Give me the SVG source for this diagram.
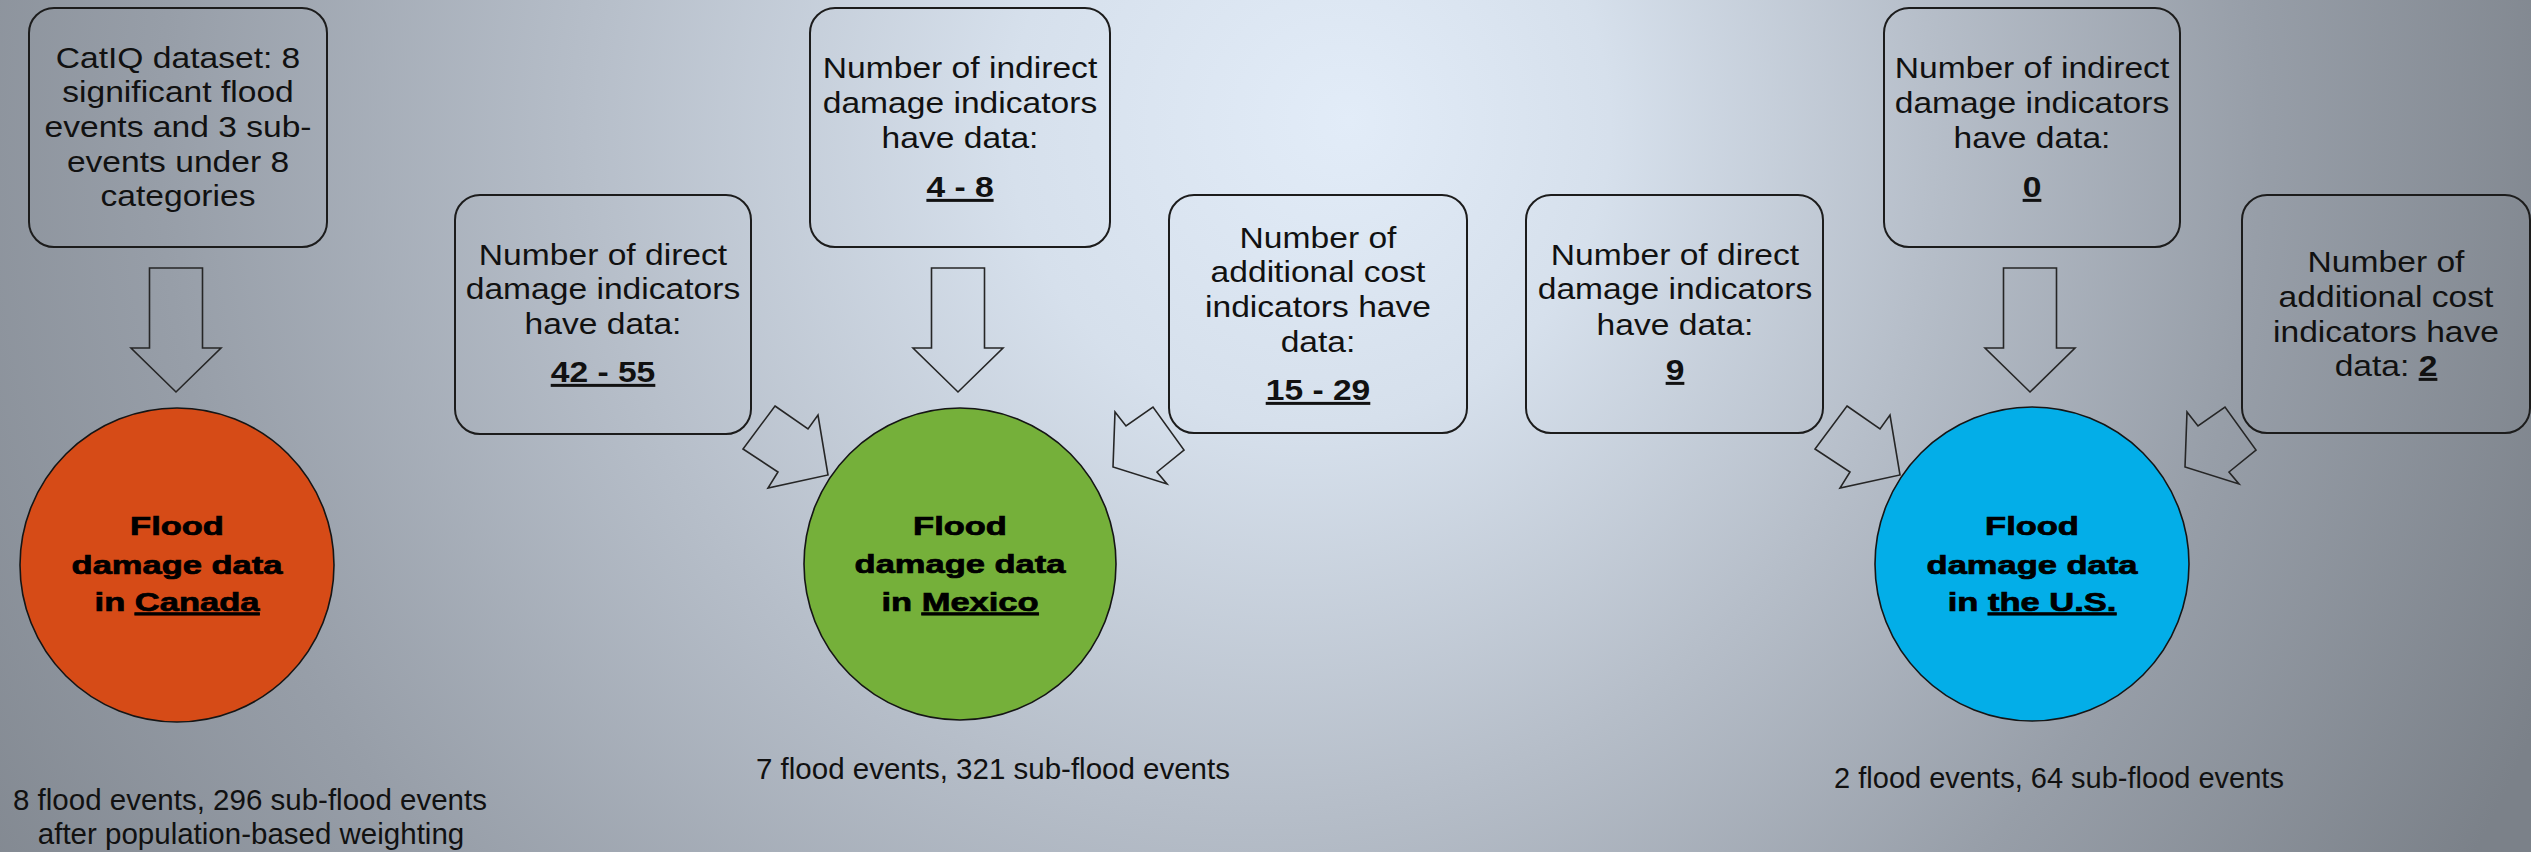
<svg xmlns="http://www.w3.org/2000/svg" xmlns:xlink="http://www.w3.org/1999/xlink" width="2531" height="852" viewBox="0 0 2531 852">
<style>
.box{fill:none;stroke:#1c1c1c;stroke-width:2}
.arrow{fill:none;stroke:#262626;stroke-width:1.6;stroke-linejoin:miter}
.circ{stroke:#151515;stroke-width:1.6}
.t{font-family:"Liberation Sans",Arial,sans-serif;font-size:30px;fill:#111;text-anchor:middle}
.b{font-weight:bold}
.u{text-decoration:underline}
.ct{font-family:"Liberation Sans",Arial,sans-serif;font-size:25px;font-weight:bold;fill:#000;stroke:#000;stroke-width:0.7;text-anchor:middle}
.note{font-family:"Liberation Sans",Arial,sans-serif;font-size:29.5px;fill:#111;text-anchor:middle}
</style>
<defs>
<radialGradient id="bg" gradientUnits="userSpaceOnUse" cx="1150" cy="150" r="1500" fx="1350" fy="120">
<stop offset="0" stop-color="#e2ecf8"/>
<stop offset="0.2" stop-color="#d6e0ec"/>
<stop offset="0.45" stop-color="#b6bec9"/>
<stop offset="0.7" stop-color="#979ea8"/>
<stop offset="1" stop-color="#7b8189"/>
</radialGradient>
<path id="arrDown" d="M-26.5,0 H26.5 V80 H45 L0,124 L-45,80 H-26.5 Z"/>
<path id="arrLeft" d="M775,406 L808,429 L818,415 L828,475 L768,488 L778,472 L743,449 Z"/>
<path id="arrRight" d="M1113,467 L1115,412 L1126,426 L1153,407 L1184,450 L1157,472 L1167,484 Z"/>
</defs>
<rect x="0" y="0" width="2531" height="852" fill="url(#bg)"/>

<g id="connectors">
<use xlink:href="#arrDown" class="arrow" transform="translate(176 268)"/>
<use xlink:href="#arrDown" class="arrow" transform="translate(958 268)"/>
<use xlink:href="#arrDown" class="arrow" transform="translate(2030 268)"/>
<use xlink:href="#arrLeft" class="arrow"/>
<use xlink:href="#arrRight" class="arrow"/>
<use xlink:href="#arrLeft" class="arrow" transform="translate(1072 0)"/>
<use xlink:href="#arrRight" class="arrow" transform="translate(1072 0)"/>
</g>

<g id="catiq">
<rect class="box" x="29" y="8" width="298" height="239" rx="25"/>
<g transform="translate(178 0) scale(1.12 1)">
<text class="t" x="0" y="68">CatIQ dataset: 8</text>
<text class="t" x="0" y="102">significant flood</text>
<text class="t" x="0" y="137">events and 3 sub-</text>
<text class="t" x="0" y="172">events under 8</text>
<text class="t" x="0" y="206">categories</text>
</g>
</g>

<g id="canada">
<circle class="circ" cx="177" cy="565" r="157" fill="#d64b17"/>
<g transform="translate(177 0) scale(1.38 1)">
<text class="ct" x="0" y="535">Flood</text>
<text class="ct" x="0" y="574">damage data</text>
<text class="ct" x="0" y="611">in <tspan class="u">Canada</tspan></text>
</g>
</g>

<g id="canada-note">
<text class="note" x="250" y="810">8 flood events, 296 sub-flood events</text>
<text class="note" x="251" y="844">after population-based weighting</text>
</g>

<g id="mx-direct">
<rect class="box" x="455" y="195" width="296" height="239" rx="25"/>
<g transform="translate(603 0) scale(1.12 1)">
<text class="t" x="0" y="265">Number of direct</text>
<text class="t" x="0" y="299">damage indicators</text>
<text class="t" x="0" y="334">have data:</text>
<text class="t b u" x="0" y="382">42 - 55</text>
</g>
</g>

<g id="mx-indirect">
<rect class="box" x="810" y="8" width="300" height="239" rx="25"/>
<g transform="translate(960 0) scale(1.12 1)">
<text class="t" x="0" y="78">Number of indirect</text>
<text class="t" x="0" y="113">damage indicators</text>
<text class="t" x="0" y="148">have data:</text>
<text class="t b u" x="0" y="197">4 - 8</text>
</g>
</g>

<g id="mx-additional">
<rect class="box" x="1169" y="195" width="298" height="238" rx="25"/>
<g transform="translate(1318 0) scale(1.12 1)">
<text class="t" x="0" y="248">Number of</text>
<text class="t" x="0" y="282">additional cost</text>
<text class="t" x="0" y="317">indicators have</text>
<text class="t" x="0" y="352">data:</text>
<text class="t b u" x="0" y="400">15 - 29</text>
</g>
</g>

<g id="mexico">
<circle class="circ" cx="960" cy="564" r="156" fill="#75b03a"/>
<g transform="translate(960 0) scale(1.38 1)">
<text class="ct" x="0" y="535">Flood</text>
<text class="ct" x="0" y="573">damage data</text>
<text class="ct" x="0" y="611">in <tspan class="u">Mexico</tspan></text>
</g>
</g>

<g id="mexico-note">
<text class="note" x="993" y="779">7 flood events, 321 sub-flood events</text>
</g>

<g id="us-direct">
<rect class="box" x="1526" y="195" width="297" height="238" rx="25"/>
<g transform="translate(1675 0) scale(1.12 1)">
<text class="t" x="0" y="265">Number of direct</text>
<text class="t" x="0" y="299">damage indicators</text>
<text class="t" x="0" y="335">have data:</text>
<text class="t b u" x="0" y="380">9</text>
</g>
</g>

<g id="us-indirect">
<rect class="box" x="1884" y="8" width="296" height="239" rx="25"/>
<g transform="translate(2032 0) scale(1.12 1)">
<text class="t" x="0" y="78">Number of indirect</text>
<text class="t" x="0" y="113">damage indicators</text>
<text class="t" x="0" y="148">have data:</text>
<text class="t b u" x="0" y="197">0</text>
</g>
</g>

<g id="us-additional">
<rect class="box" x="2242" y="195" width="288" height="238" rx="25"/>
<g transform="translate(2386 0) scale(1.12 1)">
<text class="t" x="0" y="272">Number of</text>
<text class="t" x="0" y="307">additional cost</text>
<text class="t" x="0" y="342">indicators have</text>
<text class="t" x="0" y="376">data: <tspan class="b u">2</tspan></text>
</g>
</g>

<g id="us">
<circle class="circ" cx="2032" cy="564" r="157" fill="#03aee8"/>
<g transform="translate(2032 0) scale(1.38 1)">
<text class="ct" x="0" y="535">Flood</text>
<text class="ct" x="0" y="574">damage data</text>
<text class="ct" x="0" y="611">in <tspan class="u">the U.S.</tspan></text>
</g>
</g>

<g id="us-note">
<text class="note" style="font-size:29px" x="2059" y="788">2 flood events, 64 sub-flood events</text>
</g>
</svg>
